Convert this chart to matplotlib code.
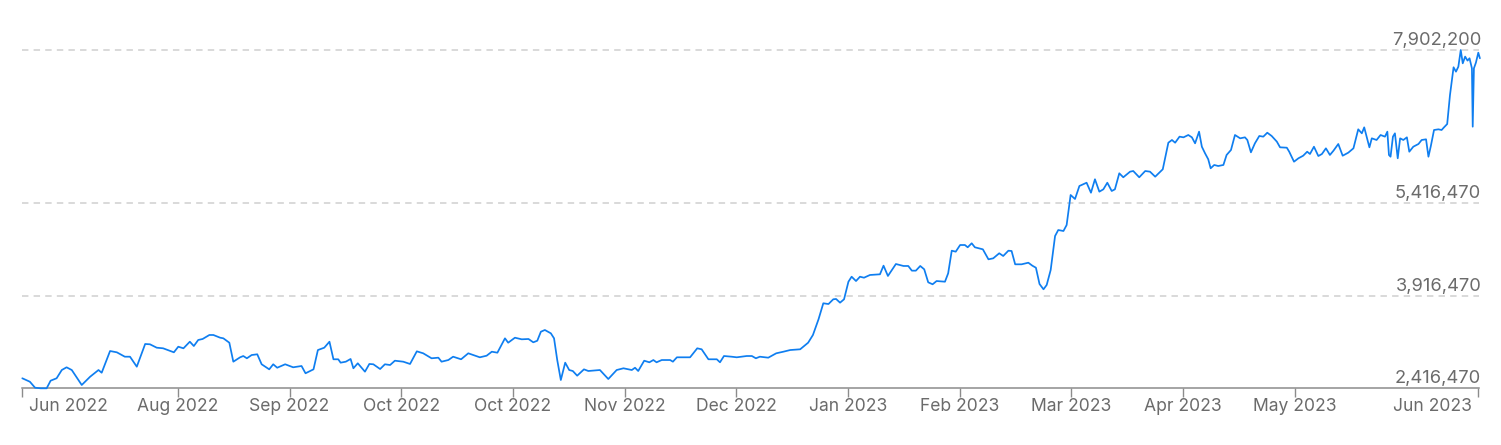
import numpy as np
import pandas as pd
import matplotlib
matplotlib.use("Agg")
import matplotlib.pyplot as plt
import matplotlib.transforms as mtransforms

plt.rcParams['font.family'] = ['Inter', 'DejaVu Sans']

# ---- data ----
start_date = "2022-06-29"
span_days = 365.25

day_offsets = [
    0, 1.9, 3.2, 4.6, 6.1, 7.1, 8.6, 9.9, 11.1, 12.4, 14.9, 17.0, 19.1, 19.9, 22.0,
    23.7, 25.7, 27.0, 28.7, 30.8, 32.0, 33.7, 35.3, 38.0, 39.1, 40.4, 42.0, 43.0, 44.1,
    45.2, 46.9, 47.9, 49.6, 50.4, 51.9, 52.9, 54.6, 55.4, 56.3, 57.5, 58.9, 60.0, 61.9,
    62.9, 63.9, 65.9, 67.9, 70.0, 71.0, 73.0, 74.1, 75.7, 77.0, 78.0, 79.2, 79.8, 81.1,
    82.3, 83.0, 84.1, 85.9, 87.0, 88.0, 89.7,
    90.9, 92.2, 93.4, 95.5, 97.2, 98.9, 100.5, 102.6, 104.3, 105.1, 106.8, 108.0, 110.0,
    111.8, 114.7, 116.4, 117.7, 119.1, 121.0, 121.8, 123.5, 125.2, 126.9, 128.1, 129.1,
    130.0, 131.0, 132.5, 133.3, 134.1, 135.0, 136.1, 137.1, 138.0, 139.1, 140.8, 141.9,
    144.8, 146.9, 149.0, 150.7, 152.8, 153.6, 154.4, 155.9, 157.2, 158.2, 159.0, 160.3,
    162.4, 163.1, 164.1, 167.4, 168.2, 169.2, 170.3, 172.0, 174.1, 174.9, 175.9, 177.8,
    179.1, 181.6, 182.9, 183.9, 184.9, 187.0, 189.0, 190.8, 192.5, 195.0, 197.0, 198.2,
    199.6, 200.8, 202.1, 203.3, 204.0, 205.0, 206.0, 207.1, 207.9, 209.0, 210.0, 211.0,
    212.5, 215.0, 215.9, 217.0, 219.0, 220.9, 222.1, 223.0, 224.0, 225.1, 226.1, 227.1,
    228.2, 229.2, 231.3, 232.1, 233.0, 234.0, 235.1, 236.3, 237.0, 238.0, 238.8, 240.8,
    242.2, 243.4, 244.9, 245.9, 247.2, 248.0, 248.9, 250.5, 252.2, 253.2, 254.1, 255.0,
    256.0, 256.8, 257.8, 258.9, 259.7, 261.0, 261.8, 262.8, 263.9, 265.0, 266.8, 267.9,
    268.9, 270.0, 271.0, 272.0, 273.1, 273.9, 275.0, 276.0, 277.7, 278.5, 280.0, 281.5,
    282.7, 284.0, 285.9, 287.3, 288.2, 289.0, 290.1,
    291.1, 292.3, 293.2, 294.0, 295.0, 295.7, 296.5, 297.3, 297.9, 298.8, 299.8, 301.1,
    301.9, 303.0, 304.0, 305.3, 306.5, 307.1, 308.0, 309.0, 310.1, 311.1, 312.1, 313.2,
    314.5, 315.3, 317.0, 317.6, 318.8, 319.9, 321.1, 322.1, 322.8, 323.8, 324.9, 325.8,
    326.8, 327.8, 328.7, 329.9, 331.0, 332.4, 333.7, 334.9, 335.8, 336.4, 337.0, 337.7,
    338.3, 339.5, 340.5, 341.6, 342.2, 342.6, 343.0, 343.6, 344.1, 344.8, 345.4, 346.2,
    347.1, 347.7, 348.7, 350.0, 350.8, 351.9, 352.5, 353.1, 353.9, 355.0, 355.8, 356.4,
    357.2, 357.9, 358.8, 359.4, 360.0, 360.6, 361.1, 361.7, 362.3, 362.8, 363.4, 363.6,
    363.9, 364.4, 365.0, 365.4,
]

price_millions = [
    2.579, 2.523, 2.426, 2.4165, 2.41647, 2.540, 2.579, 2.713, 2.757, 2.713, 2.470, 2.604,
    2.713, 2.669, 3.021, 3.000, 2.929, 2.929, 2.767, 3.135, 3.130, 3.075, 3.065, 3.000,
    3.091, 3.065, 3.172, 3.102, 3.200, 3.216, 3.281, 3.281, 3.237, 3.227, 3.156, 2.848,
    2.919, 2.940, 2.903, 2.956, 2.968, 2.806, 2.724, 2.806, 2.750, 2.806, 2.757, 2.778,
    2.660, 2.724, 3.037, 3.075, 3.172, 2.887, 2.887, 2.832, 2.848, 2.892, 2.741, 2.822,
    2.686, 2.811, 2.806, 2.729,
    2.806, 2.794, 2.864, 2.848, 2.811, 3.016, 2.984, 2.903, 2.913, 2.848, 2.875, 2.929,
    2.887, 2.984, 2.919, 2.945, 3.010, 2.994, 3.227, 3.156, 3.237, 3.211, 3.216, 3.162,
    3.188, 3.334, 3.362, 3.308, 3.227, 2.875, 2.551, 2.832, 2.713, 2.697, 2.621, 2.724,
    2.697, 2.713, 2.567, 2.713, 2.741, 2.713, 2.750, 2.697, 2.864, 2.838, 2.875, 2.838,
    2.875, 2.875, 2.848, 2.919, 2.919, 2.984, 3.065, 3.049, 2.887, 2.887, 2.838, 2.940,
    2.929, 2.919, 2.940, 2.940, 2.903, 2.929, 2.913, 2.984, 3.010, 3.037, 3.049, 3.156,
    3.281,
    3.535, 3.795, 3.783, 3.860, 3.865, 3.805, 3.860, 4.145, 4.226, 4.156, 4.226, 4.210,
    4.254, 4.265, 4.405, 4.238, 4.432, 4.400, 4.400, 4.324, 4.324, 4.400, 4.346, 4.135,
    4.103, 4.156, 4.145, 4.281, 4.648, 4.632, 4.740, 4.740, 4.703, 4.768, 4.703, 4.670,
    4.508, 4.524, 4.606, 4.562, 4.648, 4.643, 4.427, 4.427, 4.453, 4.405, 4.372, 4.108,
    4.022, 4.092, 4.335, 4.886, 4.983, 4.967, 5.064, 5.551, 5.486, 5.697, 5.750, 5.588,
    5.806, 5.605, 5.643, 5.750, 5.616, 5.643, 5.903, 5.838, 5.929, 5.940, 5.838, 5.940,
    5.929, 5.848, 5.968, 6.399, 6.443, 6.399, 6.497,
    6.486, 6.524, 6.486, 6.389, 6.578, 6.334, 6.227, 6.130, 5.984, 6.038, 6.021, 6.038,
    6.200, 6.281, 6.524, 6.470, 6.486, 6.443, 6.243, 6.389, 6.508, 6.497, 6.561, 6.508,
    6.416, 6.324, 6.318, 6.253, 6.091, 6.146, 6.188, 6.253, 6.216, 6.334, 6.183, 6.216,
    6.308, 6.200, 6.270, 6.378, 6.188, 6.237, 6.308, 6.616, 6.551, 6.648, 6.497, 6.324,
    6.470, 6.443, 6.524, 6.497, 6.578, 6.200, 6.172, 6.497, 6.551, 6.146, 6.470, 6.443,
    6.486, 6.253, 6.334, 6.378, 6.443, 6.454, 6.172, 6.345, 6.605, 6.616, 6.605, 6.648,
    6.702, 7.172, 7.622, 7.551, 7.632, 7.9022, 7.686, 7.795, 7.730, 7.768, 7.605, 6.659,
    7.605, 7.697, 7.859, 7.768,
]

y_ticks = [2416470, 3916470, 5416470, 7902200]
y_tick_labels = ["2,416,470", "3,916,470", "5,416,470", "7,902,200"]

x_tick_dates = ["2022-06-29", "2022-08-07", "2022-09-04", "2022-10-02", "2022-10-30",
                "2022-11-27", "2022-12-25", "2023-01-22", "2023-02-19", "2023-03-19",
                "2023-04-16", "2023-05-14", "2023-06-29"]
x_tick_labels = ["", "Aug 2022", "Sep 2022", "Oct 2022", "Oct 2022", "Nov 2022",
                 "Dec 2022", "Jan 2023", "Feb 2023", "Mar 2023", "Apr 2023",
                 "May 2023", ""]
edge_labels = ["Jun 2022", "Jun 2023"]

# ---- figure ----
W, H, DPI = 1501, 445, 100
fig = plt.figure(figsize=(W / DPI, H / DPI), dpi=DPI)
ax_left, ax_right = 22.3, 1479.3
ax_top, ax_bottom = 50.0, 388.3
ax = fig.add_axes([ax_left / W, (H - ax_bottom) / H,
                   (ax_right - ax_left) / W, (ax_bottom - ax_top) / H])

t0 = pd.Timestamp(start_date)
dates = t0 + pd.to_timedelta(np.array(day_offsets), unit="D")
values = np.array(price_millions) * 1e6

line_color = "#0f7ef0"
text_color = "#6b6b6b"
grid_color = "#cfcfcf"

ax.plot(dates, values, color=line_color, lw=1.25, clip_on=False, zorder=3,
        solid_joinstyle="round", solid_capstyle="round")

ax.set_xlim(t0, t0 + pd.Timedelta(days=span_days))
ax.set_ylim(y_ticks[0], y_ticks[-1])

for s in ["top", "right", "left"]:
    ax.spines[s].set_visible(False)
ax.spines["bottom"].set_color("#8c8c8c")
ax.spines["bottom"].set_linewidth(1.1)

# dashed gridlines
for yv in y_ticks[1:]:
    ax.axhline(yv, color=grid_color, lw=1.1, ls=(0, (4.2, 3.4)), zorder=1, clip_on=False)

ax.set_yticks([])
tick_dates = [pd.Timestamp(d) for d in x_tick_dates]
ax.set_xticks(tick_dates)
ax.set_xticklabels([""] * len(tick_dates))
ax.tick_params(axis="x", direction="out", length=6.5, width=1.0, color="#8c8c8c")

# x labels
xtrans = mtransforms.blended_transform_factory(ax.transData, ax.transAxes)
off = mtransforms.ScaledTranslation(0, -22.4 / DPI, fig.dpi_scale_trans)
fs = 12.6
for d, lab in zip(tick_dates, x_tick_labels):
    if lab:
        ax.text(d, 0, lab, transform=xtrans + off, ha="center", va="baseline",
                fontsize=fs, color=text_color)
offL = mtransforms.ScaledTranslation(6.5 / DPI, -22.4 / DPI, fig.dpi_scale_trans)
offR = mtransforms.ScaledTranslation(-6.0 / DPI, -22.4 / DPI, fig.dpi_scale_trans)
ax.text(tick_dates[0], 0, edge_labels[0], transform=xtrans + offL, ha="left",
        va="baseline", fontsize=fs, color=text_color)
ax.text(tick_dates[-1], 0, edge_labels[1], transform=xtrans + offR, ha="right",
        va="baseline", fontsize=fs, color=text_color)

# y labels (right, above gridlines)
ytrans = mtransforms.blended_transform_factory(ax.transAxes, ax.transData)
offY = mtransforms.ScaledTranslation(2.0 / DPI, 5.0 / DPI, fig.dpi_scale_trans)
for yv, lab in zip(y_ticks, y_tick_labels):
    ax.text(1, yv, lab, transform=ytrans + offY, ha="right", va="baseline",
            fontsize=13.2, color=text_color)

fig.savefig("out.png", dpi=DPI)
